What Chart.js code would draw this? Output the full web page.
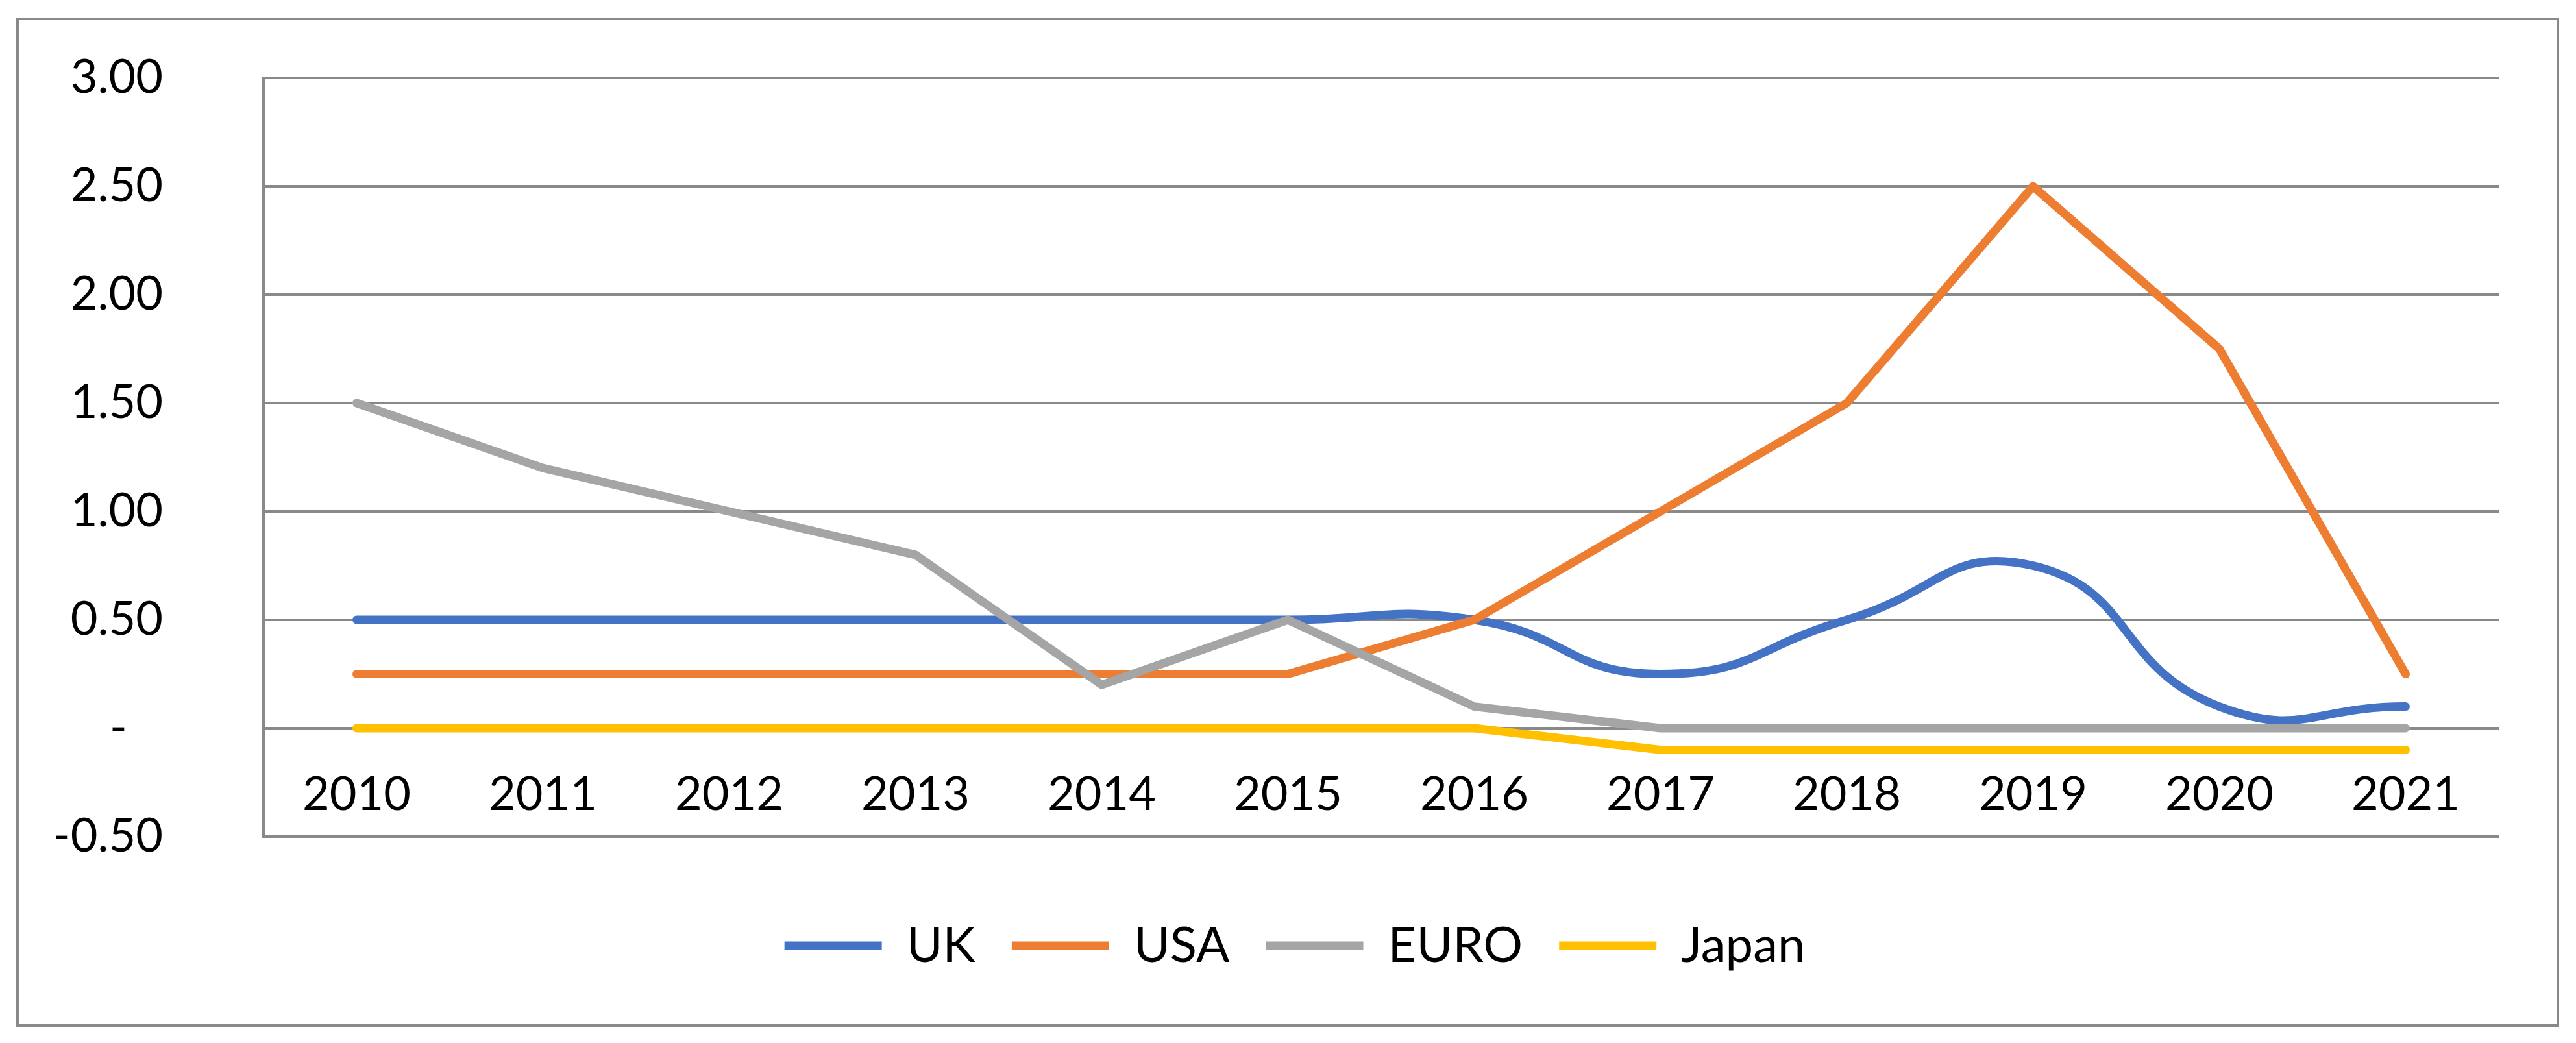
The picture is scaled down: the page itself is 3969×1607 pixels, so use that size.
<!DOCTYPE html>
<html>
<head>
<meta charset="utf-8">
<script src="https://cdn.jsdelivr.net/npm/chart.js@4.4.1/dist/chart.umd.min.js"></script>
<style>
  html, body { margin: 0; padding: 0; background: #ffffff; }
  canvas { display: block; }
</style>
</head>
<body>
<canvas id="c" width="3969" height="1607"></canvas>
<script>
const years = ['2010','2011','2012','2013','2014','2015','2016','2017','2018','2019','2020','2021'];
const uk    = [0.5, 0.5, 0.5, 0.5, 0.5, 0.5, 0.5, 0.25, 0.5, 0.75, 0.1, 0.1];
const usa   = [0.25, 0.25, 0.25, 0.25, 0.25, 0.25, 0.5, 1.0, 1.5, 2.5, 1.75, 0.25];
const euro  = [1.5, 1.2, 1.0, 0.8, 0.2, 0.5, 0.1, 0, 0, 0, 0, 0];
const japan = [0, 0, 0, 0, 0, 0, 0, -0.1, -0.1, -0.1, -0.1, -0.1];
const yTicks = [-0.5, 0, 0.5, 1.0, 1.5, 2.0, 2.5, 3.0];

const GRID = '#898989';
const FONT = 'Lato';

const outerBorder = {
  id: 'outerBorder',
  beforeDraw(chart) {
    const ctx = chart.ctx;
    ctx.save();
    ctx.fillStyle = '#ffffff';
    ctx.fillRect(0, 0, chart.width, chart.height);
    ctx.strokeStyle = GRID;
    ctx.lineWidth = 4;
    ctx.strokeRect(27, 29, 3914, 1551);
    ctx.restore();
  }
};

function ds(label, data, color, order, tension) {
  return {
    label, data, order,
    borderColor: color, backgroundColor: color,
    borderWidth: 13, pointRadius: 0, pointHoverRadius: 0,
    borderCapStyle: 'round', borderJoinStyle: 'round',
    tension: tension, fill: false
  };
}

new Chart(document.getElementById('c'), {
  type: 'line',
  data: {
    labels: years,
    datasets: [
      ds('UK', uk, '#4472C4', 4, 0.5),
      ds('USA', usa, '#ED7D31', 3, 0),
      ds('EURO', euro, '#A5A5A5', 2, 0),
      ds('Japan', japan, '#FFC000', 1, 0)
    ]
  },
  options: {
    responsive: false,
    devicePixelRatio: 1,
    animation: false,
    layout: { padding: { left: 21, right: 0, top: 120, bottom: 102 } },
    plugins: {
      tooltip: { enabled: false },
      legend: {
        position: 'bottom',
        labels: {
          usePointStyle: true,
          pointStyle: 'line',
          pointStyleWidth: 150,
          padding: 56,
          color: '#000000',
          font: { family: FONT, size: 76 },
          sort: (a, b) => a.datasetIndex - b.datasetIndex
        }
      }
    },
    scales: {
      x: {
        type: 'category',
        position: { y: 0 },
        offset: true,
        grid: { display: false, drawTicks: false },
        border: { display: false },
        ticks: {
          color: '#000000',
          padding: 60,
          maxRotation: 0,
          autoSkip: false,
          font: { family: FONT, size: 72 }
        }
      },
      xpad: {
        type: 'category',
        position: 'bottom',
        display: true,
        grid: { display: false, drawTicks: false },
        border: { display: false },
        ticks: { display: false },
        afterFit(scale) { scale.height = 74; }
      },
      y: {
        min: -0.5,
        max: 3.0,
        afterBuildTicks(scale) { scale.ticks = yTicks.map(v => ({ value: v })); },
        afterFit(scale) { scale.width = 385; },
        grid: { color: GRID, lineWidth: 4, drawTicks: true, tickLength: 155, tickColor: 'rgba(0,0,0,0)' },
        border: { display: true, color: GRID, width: 4 },
        ticks: {
          color: '#000000',
          padding: 0,
          font: { family: FONT, size: 72 },
          callback: (v) => (v === 0 ? '-   ' : Number(v).toFixed(2))
        }
      },
      yR: {
        type: 'linear',
        position: 'right',
        display: true,
        grid: { display: false, drawTicks: false },
        border: { display: false },
        ticks: { display: false },
        afterFit(scale) { scale.width = 119; }
      }
    }
  },
  plugins: [outerBorder]
});
</script>
</body>
</html>
